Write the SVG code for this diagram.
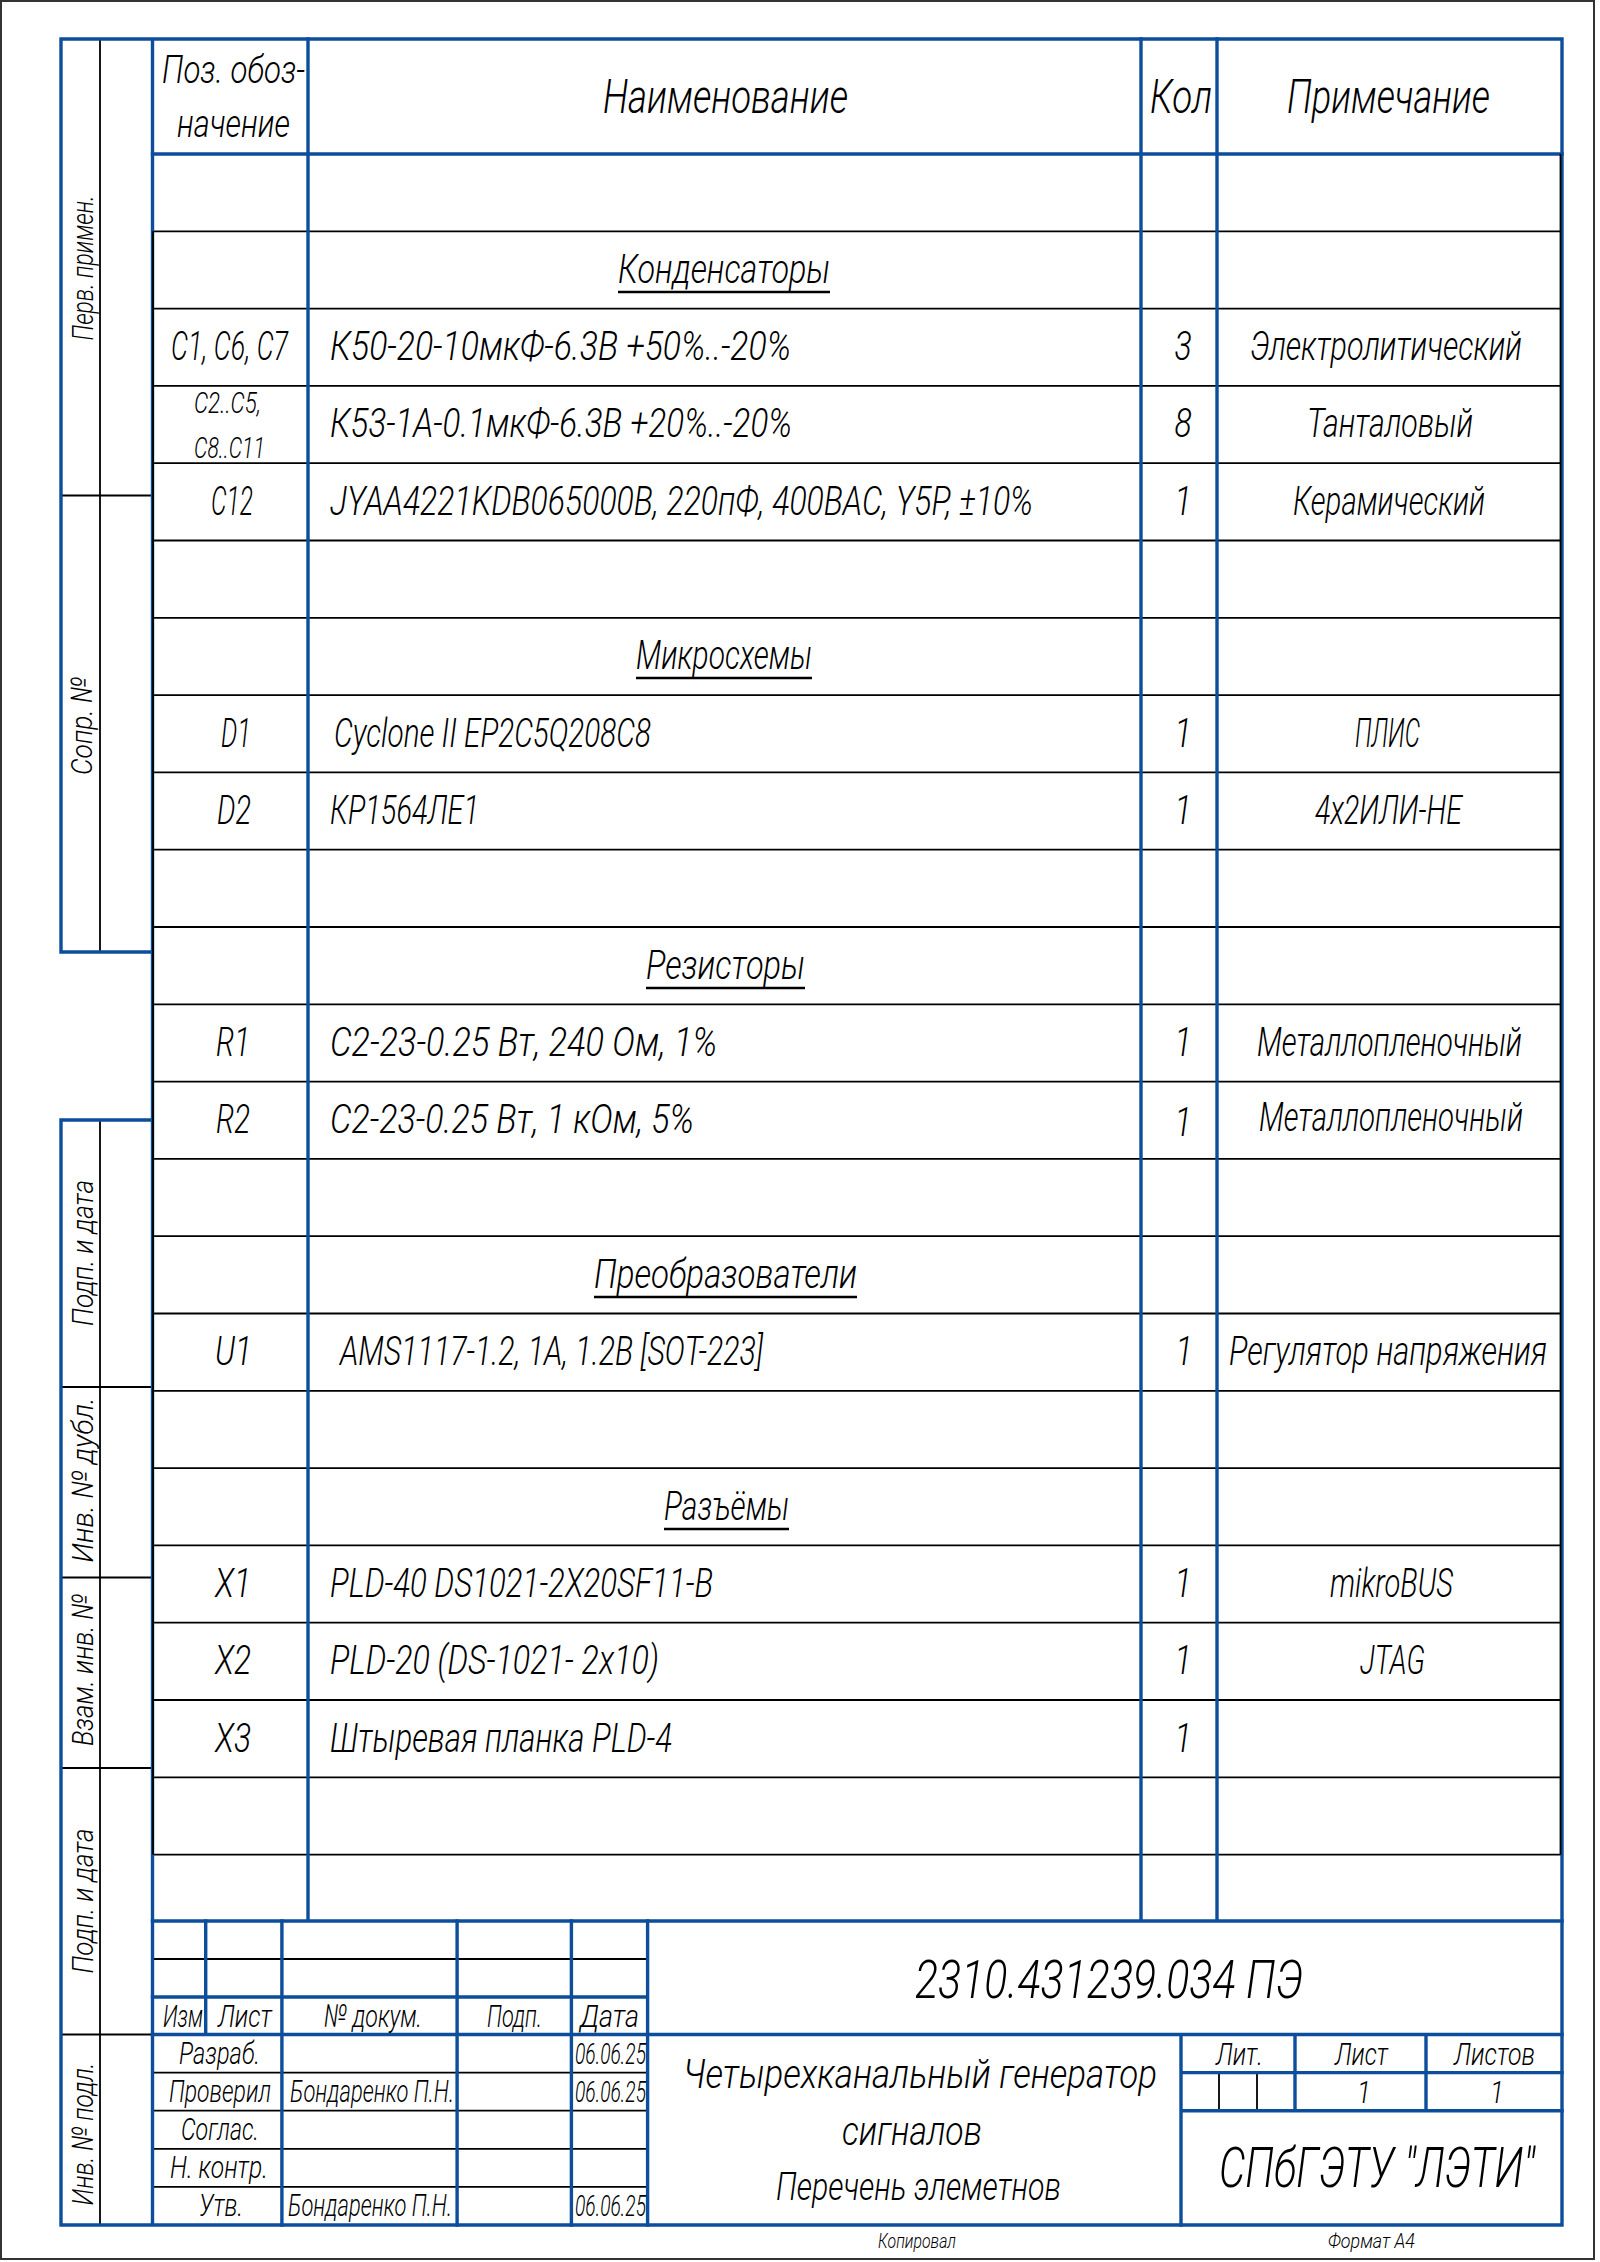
<svg xmlns="http://www.w3.org/2000/svg" width="1600" height="2262" viewBox="0 0 1600 2262">
<style>
.pg{fill:#fff;stroke:#333;stroke-width:2}
.b{fill:none;stroke:#0C4E9C;stroke-width:3.4;stroke-linecap:square}
.k{fill:none;stroke:#000;stroke-width:1.8}
.u{stroke:#000;stroke-width:2.6}
.t{font-family:Roboto,"DejaVu Sans Condensed","Liberation Sans",sans-serif;font-style:italic;font-weight:300;fill:#000}
.s20{font-size:21px}.s28{font-size:29px}.s29{font-size:30px}.s31{font-size:32px}.s37{font-size:38px}.s39{font-size:40px}.s40{font-size:41px}.s48{font-size:48px}.s54{font-size:54px}.s56{font-size:56px}
.m{text-anchor:middle}
</style>
<rect class="pg" x="1" y="1" width="1593" height="2258"/>

<g id="grid-thin">
<path class="k" d="M152.5 231.3H1562M152.5 308.6H1562M152.5 385.9H1562M152.5 463.2H1562M152.5 540.5H1562M152.5 617.8H1562M152.5 695.1H1562M152.5 772.4H1562M152.5 849.7H1562M152.5 927H1562M152.5 1004.3H1562M152.5 1081.6H1562M152.5 1158.9H1562M152.5 1236.2H1562M152.5 1313.5H1562M152.5 1390.8H1562M152.5 1468.1H1562M152.5 1545.4H1562M152.5 1622.7H1562M152.5 1700H1562M152.5 1777.3H1562M152.5 1854.6H1562"/>
<path class="k" d="M100 39V952M61 495.5H152.5M100 1120V2225M61 1387H152.5M61 1577.5H152.5M61 1768H152.5M61 2034.5H152.5"/>
<path class="k" d="M152.5 1959H647.6M152.5 2072.6H647.6M152.5 2110.7H647.6M152.5 2148.8H647.6M152.5 2186.9H647.6M1219 2072.6V2110.7M1257 2072.6V2110.7"/>
</g>

<g id="grid-thick">
<path class="b" d="M61 39H1562V2225H61M61 39V952H152.5M61 1120H152.5M61 1120V2225M152.5 39V2225"/>
<path class="b" d="M152.5 154H1562M308 39V1921M1141 39V1921M1217 39V1921M152.5 1921H1562"/>
<path class="b" d="M205.7 1921V2034.5M281.9 1921V2225M457.1 1921V2225M571.4 1921V2225M647.6 1921V2225M152.5 1997H647.6M152.5 2034.5H1562M1181 2034.5V2225M1181 2072.6H1562M1181 2110.7H1562M1295 2034.5V2110.7M1426 2034.5V2110.7"/>
<path class="k" d="M153 231.3V1854.6M1560.5 154V1854.6"/>
</g>

<g id="underlines">
<line class="u" x1="618" y1="292" x2="830" y2="292"/>
<line class="u" x1="636" y1="678" x2="812" y2="678"/>
<line class="u" x1="646" y1="988" x2="805" y2="988"/>
<line class="u" x1="594" y1="1297" x2="857" y2="1297"/>
<line class="u" x1="664" y1="1529" x2="789" y2="1529"/>
</g>

<g id="strip-labels" class="t s29">
<text class="m" transform="translate(93 268) rotate(-90) scale(0.8 1)" textLength="181.25" lengthAdjust="spacingAndGlyphs">Перв. примен.</text>
<text class="m" transform="translate(92 726) rotate(-90) scale(0.8 1)" textLength="122.5" lengthAdjust="spacingAndGlyphs">Сопр. №</text>
<text class="m" transform="translate(93 1253) rotate(-90) scale(0.8 1)" textLength="182.5" lengthAdjust="spacingAndGlyphs">Подп. и дата</text>
<text class="m" transform="translate(93 1480) rotate(-90) scale(0.8 1)" textLength="206.25" lengthAdjust="spacingAndGlyphs">Инв. № дубл.</text>
<text class="m" transform="translate(93 1670) rotate(-90) scale(0.8 1)" textLength="190" lengthAdjust="spacingAndGlyphs">Взам. инв. №</text>
<text class="m" transform="translate(93 1901) rotate(-90) scale(0.8 1)" textLength="181.25" lengthAdjust="spacingAndGlyphs">Подп. и дата</text>
<text class="m" transform="translate(93 2134) rotate(-90) scale(0.8 1)" textLength="178.75" lengthAdjust="spacingAndGlyphs">Инв. № подл.</text>
</g>

<g transform="scale(0.8 1)">
<g id="header" class="t">
<text class="s37" x="202.5" y="83" textLength="178.75" lengthAdjust="spacingAndGlyphs">Поз. обоз-</text>
<text class="s37" x="221.25" y="137" textLength="141.25" lengthAdjust="spacingAndGlyphs">начение</text>
<text class="s48" x="753.75" y="113" textLength="306.25" lengthAdjust="spacingAndGlyphs">Наименование</text>
<text class="s48" x="1437.5" y="113" textLength="77.5" lengthAdjust="spacingAndGlyphs">Кол</text>
<text class="s48" x="1608.75" y="113" textLength="253.75" lengthAdjust="spacingAndGlyphs">Примечание</text>
</g>

<g id="sections" class="t s40">
<text x="772.5" y="283" textLength="265" lengthAdjust="spacingAndGlyphs">Конденсаторы</text>
<text x="795" y="669" textLength="220" lengthAdjust="spacingAndGlyphs">Микросхемы</text>
<text x="807.5" y="979" textLength="198.75" lengthAdjust="spacingAndGlyphs">Резисторы</text>
<text x="742.5" y="1288" textLength="328.75" lengthAdjust="spacingAndGlyphs">Преобразователи</text>
<text x="830" y="1520" textLength="156.25" lengthAdjust="spacingAndGlyphs">Разъёмы</text>
</g>

<g id="rows" class="t s39">
<g id="row-c1">
<text x="213.75" y="360" textLength="146.25" lengthAdjust="spacingAndGlyphs">C1, C6, C7</text>
<text x="412.5" y="360" textLength="576.25" lengthAdjust="spacingAndGlyphs">К50-20-10мкФ-6.3В +50%..-20%</text>
<text class="m" x="1478.75" y="360">3</text>
<text x="1562.5" y="360" textLength="340" lengthAdjust="spacingAndGlyphs">Электролитический</text>
</g>
<g id="row-c2">
<text class="s29" x="242.5" y="413" textLength="83.75" lengthAdjust="spacingAndGlyphs">C2..C5,</text>
<text class="s29" x="242.5" y="458" textLength="88.75" lengthAdjust="spacingAndGlyphs">C8..C11</text>
<text x="412.5" y="437" textLength="577.5" lengthAdjust="spacingAndGlyphs">К53-1А-0.1мкФ-6.3В +20%..-20%</text>
<text class="m" x="1478.75" y="437">8</text>
<text x="1633.75" y="437" textLength="207.5" lengthAdjust="spacingAndGlyphs">Танталовый</text>
</g>
<g id="row-c12">
<text x="263.75" y="515" textLength="52.5" lengthAdjust="spacingAndGlyphs">C12</text>
<text x="412.5" y="515" textLength="878.75" lengthAdjust="spacingAndGlyphs">JYAA4221KDB065000B, 220пФ, 400ВАС, Y5P, ±10%</text>
<text class="m" x="1478.75" y="515">1</text>
<text x="1616.25" y="515" textLength="240" lengthAdjust="spacingAndGlyphs">Керамический</text>
</g>
<g id="row-d1">
<text x="276.25" y="747" textLength="37.5" lengthAdjust="spacingAndGlyphs">D1</text>
<text x="417.5" y="747" textLength="396.25" lengthAdjust="spacingAndGlyphs">Cyclone II EP2C5Q208C8</text>
<text class="m" x="1478.75" y="747">1</text>
<text x="1693.75" y="747" textLength="81.25" lengthAdjust="spacingAndGlyphs">ПЛИС</text>
</g>
<g id="row-d2">
<text x="271.25" y="824" textLength="42.5" lengthAdjust="spacingAndGlyphs">D2</text>
<text x="412.5" y="824" textLength="186.25" lengthAdjust="spacingAndGlyphs">КР1564ЛЕ1</text>
<text class="m" x="1478.75" y="824">1</text>
<text x="1643.75" y="824" textLength="183.75" lengthAdjust="spacingAndGlyphs">4x2ИЛИ-НЕ</text>
</g>
<g id="row-r1">
<text x="270" y="1056" textLength="42.5" lengthAdjust="spacingAndGlyphs">R1</text>
<text x="412.5" y="1056" textLength="483.75" lengthAdjust="spacingAndGlyphs">С2-23-0.25 Вт, 240 Ом, 1%</text>
<text class="m" x="1478.75" y="1056">1</text>
<text x="1571.25" y="1056" textLength="331.25" lengthAdjust="spacingAndGlyphs">Металлопленочный</text>
</g>
<g id="row-r2">
<text x="270" y="1133" textLength="42.5" lengthAdjust="spacingAndGlyphs">R2</text>
<text x="412.5" y="1133" textLength="455" lengthAdjust="spacingAndGlyphs">С2-23-0.25 Вт, 1 кОм, 5%</text>
<text class="m" x="1478.75" y="1136">1</text>
<text x="1573.75" y="1131" textLength="330" lengthAdjust="spacingAndGlyphs">Металлопленочный</text>
</g>
<g id="row-u1">
<text x="268.75" y="1365" textLength="46.25" lengthAdjust="spacingAndGlyphs">U1</text>
<text x="425" y="1365" textLength="528.75" lengthAdjust="spacingAndGlyphs">AMS1117-1.2, 1A, 1.2В [SOT-223]</text>
<text class="m" x="1480" y="1365">1</text>
<text x="1536.25" y="1365" textLength="397.5" lengthAdjust="spacingAndGlyphs">Регулятор напряжения</text>
</g>
<g id="row-x1">
<text x="268.75" y="1597" textLength="45" lengthAdjust="spacingAndGlyphs">X1</text>
<text x="412.5" y="1597" textLength="478.75" lengthAdjust="spacingAndGlyphs">PLD-40 DS1021-2X20SF11-B</text>
<text class="m" x="1478.75" y="1597">1</text>
<text x="1662.5" y="1597" textLength="153.75" lengthAdjust="spacingAndGlyphs">mikroBUS</text>
</g>
<g id="row-x2">
<text x="268.75" y="1674" textLength="45" lengthAdjust="spacingAndGlyphs">X2</text>
<text x="412.5" y="1674" textLength="411.25" lengthAdjust="spacingAndGlyphs">PLD-20 (DS-1021- 2x10)</text>
<text class="m" x="1478.75" y="1674">1</text>
<text x="1700" y="1674" textLength="81.25" lengthAdjust="spacingAndGlyphs">JTAG</text>
</g>
<g id="row-x3">
<text x="268.75" y="1752" textLength="45" lengthAdjust="spacingAndGlyphs">X3</text>
<text x="412.5" y="1752" textLength="427.5" lengthAdjust="spacingAndGlyphs">Штыревая планка PLD-4</text>
<text class="m" x="1478.75" y="1752">1</text>
</g>
</g>

<g id="title-block" class="t">
<g class="s31">
<text x="203.75" y="2027" textLength="50" lengthAdjust="spacingAndGlyphs">Изм</text>
<text x="272.5" y="2027" textLength="67.5" lengthAdjust="spacingAndGlyphs">Лист</text>
<text x="405" y="2027" textLength="122.5" lengthAdjust="spacingAndGlyphs">№ докум.</text>
<text x="608.75" y="2027" textLength="68.75" lengthAdjust="spacingAndGlyphs">Подп.</text>
<text x="725" y="2027" textLength="73.75" lengthAdjust="spacingAndGlyphs">Дата</text>
<text x="223.75" y="2064" textLength="101.25" lengthAdjust="spacingAndGlyphs">Разраб.</text>
<text x="211.25" y="2102" textLength="127.5" lengthAdjust="spacingAndGlyphs">Проверил</text>
<text x="226.25" y="2140" textLength="97.5" lengthAdjust="spacingAndGlyphs">Соглас.</text>
<text x="212.5" y="2178" textLength="122.5" lengthAdjust="spacingAndGlyphs">Н. контр.</text>
<text x="248.75" y="2216" textLength="55" lengthAdjust="spacingAndGlyphs">Утв.</text>
<text x="362.5" y="2102" textLength="205" lengthAdjust="spacingAndGlyphs">Бондаренко П.Н.</text>
<text x="360" y="2216" textLength="205" lengthAdjust="spacingAndGlyphs">Бондаренко П.Н.</text>
<text x="1520" y="2065" textLength="58.75" lengthAdjust="spacingAndGlyphs">Лит.</text>
<text x="1668.75" y="2065" textLength="66.25" lengthAdjust="spacingAndGlyphs">Лист</text>
<text x="1817.5" y="2065" textLength="101.25" lengthAdjust="spacingAndGlyphs">Листов</text>
<text class="m" x="1705" y="2103">1</text>
<text class="m" x="1871.25" y="2103">1</text>
</g>
<g class="s28">
<text x="718.75" y="2064" textLength="88.75" lengthAdjust="spacingAndGlyphs">06.06.25</text>
<text x="718.75" y="2102" textLength="88.75" lengthAdjust="spacingAndGlyphs">06.06.25</text>
<text x="718.75" y="2216" textLength="88.75" lengthAdjust="spacingAndGlyphs">06.06.25</text>
</g>
<text class="s54" x="1143.75" y="1998" textLength="485" lengthAdjust="spacingAndGlyphs">2310.431239.034 ПЭ</text>
<text class="s40" x="853.75" y="2088" textLength="592.5" lengthAdjust="spacingAndGlyphs">Четырехканальный генератор</text>
<text class="s40" x="1052.5" y="2145" textLength="175" lengthAdjust="spacingAndGlyphs">сигналов</text>
<text class="s37" x="970" y="2200" textLength="356.25" lengthAdjust="spacingAndGlyphs">Перечень элеметнов</text>
<text class="s56" x="1523.75" y="2187" textLength="395" lengthAdjust="spacingAndGlyphs">СПбГЭТУ "ЛЭТИ"</text>
</g>

<g id="page-notes" class="t s20">
<text x="1097.5" y="2248" textLength="97.5" lengthAdjust="spacingAndGlyphs">Копировал</text>
<text x="1660" y="2248" textLength="108.75" lengthAdjust="spacingAndGlyphs">Формат А4</text>
</g>
</g>
</svg>
